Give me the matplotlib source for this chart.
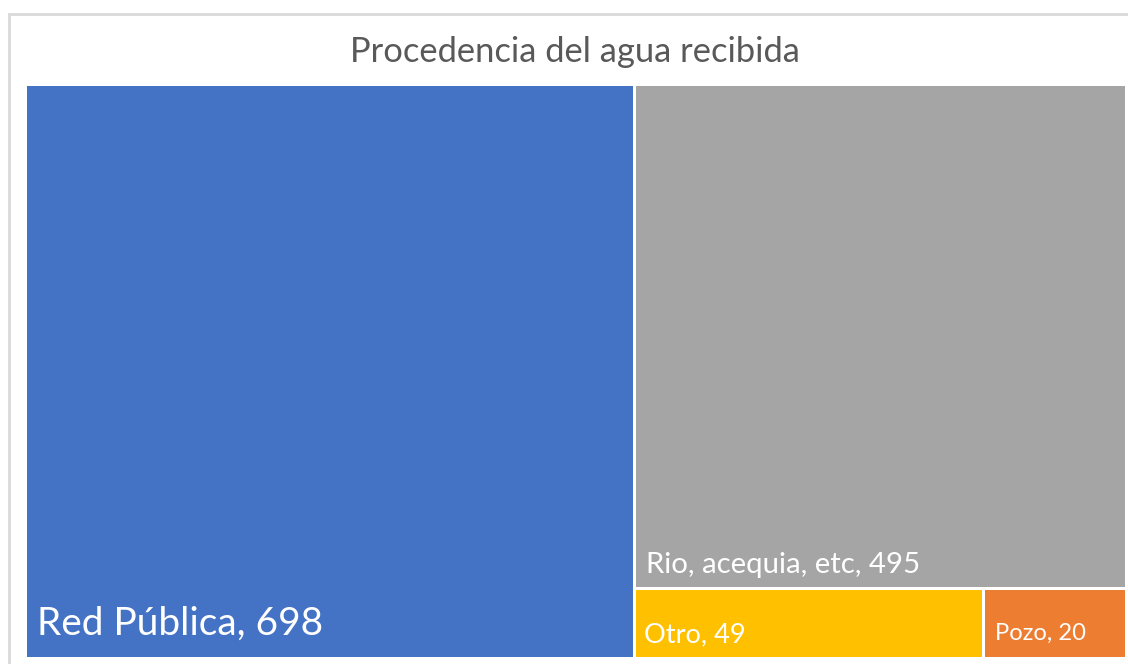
import matplotlib.pyplot as plt
from matplotlib.patches import Rectangle

# data
labels = ["Red Pública", "Rio, acequia, etc", "Otro", "Pozo"]
values = [698, 495, 49, 20]
colors = ["#4472C4", "#A5A5A5", "#FFC000", "#ED7D31"]
label_sizes = [28, 21.2, 19.6, 17.1]

W, H = 1128, 664
fig = plt.figure(figsize=(W / 100, H / 100), dpi=100)
fig.patch.set_facecolor("white")

# light frame (cut off on right/bottom like the source)
fig.patches.append(Rectangle((9 / W, -0.1), 1.2, 1 - 14 / H + 0.1,
                             transform=fig.transFigure, fill=False,
                             edgecolor="#D9D9D9", linewidth=2))

fig.text(575 / W, 1 - 52 / H, "Procedencia del agua recibida",
         ha="center", va="center", fontsize=24.8, color="#595959", family="Lato")

x0, x1, y0, y1 = 25.5, 1126.5, 84.5, 658.5
ax = fig.add_axes([x0 / W, 1 - y1 / H, (x1 - x0) / W, (y1 - y0) / H])
ax.set_xlim(0, x1 - x0)
ax.set_ylim(y1 - y0, 0)
ax.axis("off")
aw, ah = x1 - x0, y1 - y0

# slice-and-dice layout: first item full height, rest split
total = sum(values)
w0 = aw * values[0] / total
rest = sum(values[1:])
h1 = ah * values[1] / rest
w2 = (aw - w0) * values[2] / (values[2] + values[3])
rects = [
    (0, 0, w0, ah),
    (w0, 0, aw - w0, h1),
    (w0, h1, w2, ah - h1),
    (w0 + w2, h1, aw - w0 - w2, ah - h1),
]
pad = [(11.5, 23.5), (11.5, 15.5), (9.5, 16.5), (11.5, 18.5)]
gap = 1.5
for (x, y, w, h), lab, v, c, fs, (px, py) in zip(rects, labels, values, colors, label_sizes, pad):
    ax.add_patch(Rectangle((x + gap, y + gap), w - 2 * gap, h - 2 * gap,
                           facecolor=c, edgecolor="none"))
    ax.text(x + px, y + h - py, f"{lab}, {v}", color="white", fontsize=fs,
            family="Lato", ha="left", va="baseline")

fig.savefig("out.png", dpi=100)
